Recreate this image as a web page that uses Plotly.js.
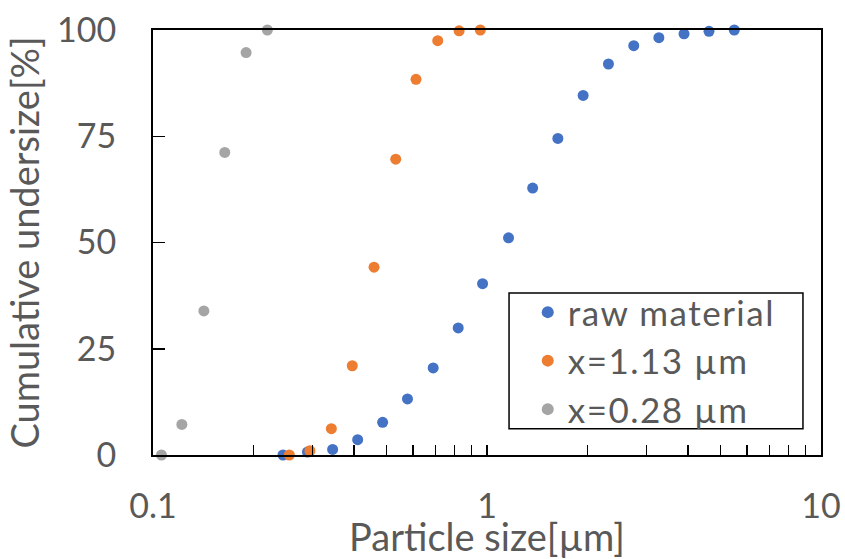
<!DOCTYPE html>
<html><head><meta charset="utf-8">
<script src="https://cdn.plot.ly/plotly-3.0.1.min.js"></script>
<style>html,body{margin:0;padding:0;background:#fff}#chart{width:845px;height:559px}
.legendtext{letter-spacing:1.5px}</style>
</head><body><div id="chart"></div>
<script>
const seriesNames = ["raw material", "x=1.13 µm", "x=0.28 µm"];
const seriesColors = ["#4472C4", "#ED7D31", "#A5A5A5"];

const rawX = [0.245, 0.29, 0.345, 0.41, 0.487, 0.578, 0.69, 0.82, 0.97, 1.16, 1.37, 1.63, 1.94, 2.31, 2.75, 3.27, 3.89, 4.62, 5.5];
const rawY = [0, 0.7, 1.3, 3.6, 7.7, 13.2, 20.5, 29.9, 40.3, 51.1, 62.8, 74.5, 84.6, 92.0, 96.3, 98.2, 99.1, 99.7, 100];

const x113X = [0.256, 0.295, 0.342, 0.395, 0.459, 0.533, 0.613, 0.712, 0.825, 0.955];
const x113Y = [0, 1.0, 6.2, 21.0, 44.2, 69.6, 88.4, 97.5, 99.8, 100];

const x028X = [0.106, 0.122, 0.142, 0.164, 0.190, 0.220];
const x028Y = [0, 7.2, 33.9, 71.2, 94.7, 100];

const xTickVals = [0.1, 1, 10];
const xTickText = ["0.1", "1", "10"];
const yTickVals = [0, 25, 50, 75, 100];
const yTickText = ["0", "25", "50", "75", "100"];

const xs = [rawX, x113X, x028X];
const ys = [rawY, x113Y, x028Y];

const FONT = "Lato, 'Noto Sans', sans-serif";
const TXT = "#595959";

const traces = seriesNames.map((n, i) => ({
  type: "scatter", mode: "markers", name: n,
  x: xs[i], y: ys[i],
  marker: {color: seriesColors[i], size: 11},
  cliponaxis: false
}));

const layout = {
  width: 845, height: 559,
  margin: {l: 153, r: 24, t: 30, b: 104, pad: 0},
  paper_bgcolor: "#fff", plot_bgcolor: "#fff",
  font: {family: FONT, color: TXT},
  showlegend: true,
  legend: {
    x: 0.561, y: 0.405, xanchor: "left", yanchor: "top",
    borderwidth: 0, bgcolor: "rgba(0,0,0,0)",
    font: {family: FONT, size: 35, color: TXT},
    itemsizing: "constant"
  },
  shapes: [{
    type: "rect", xref: "paper", yref: "paper",
    x0: 0.533, x1: 0.973, y0: 0.062, y1: 0.381,
    line: {color: "#000", width: 1.5}, fillcolor: "rgba(0,0,0,0)", layer: "above"
  }],
  xaxis: {
    type: "log", range: [-1, 1],
    tickvals: xTickVals, ticktext: xTickText,
    ticks: "inside", ticklen: 10, tickwidth: 1.5, tickcolor: "#000",
    minor: {ticks: "inside", ticklen: 10, tickwidth: 1.5, tickcolor: "#000", dtick: "D1", showgrid: false},
    showline: true, mirror: true, linecolor: "#000", linewidth: 2,
    showgrid: false, zeroline: false,
    tickfont: {family: FONT, size: 34, color: TXT},
    ticklabelstandoff: 20,
    title: {text: "Particle size[µm]", font: {family: FONT, size: 38, color: TXT}, standoff: 6}
  },
  yaxis: {
    range: [0, 100],
    tickvals: yTickVals, ticktext: yTickText,
    ticks: "inside", ticklen: 12, tickwidth: 1.5, tickcolor: "#000",
    showline: true, mirror: true, linecolor: "#000", linewidth: 2,
    showgrid: false, zeroline: false,
    tickfont: {family: FONT, size: 34, color: TXT},
    ticklabelstandoff: 28,
    title: {text: "Cumulative undersize[%]", font: {family: FONT, size: 38, color: TXT}, standoff: 6}
  }
};

Plotly.newPlot("chart", traces, layout, {displayModeBar: false, staticPlot: true});
</script>
</body></html>
